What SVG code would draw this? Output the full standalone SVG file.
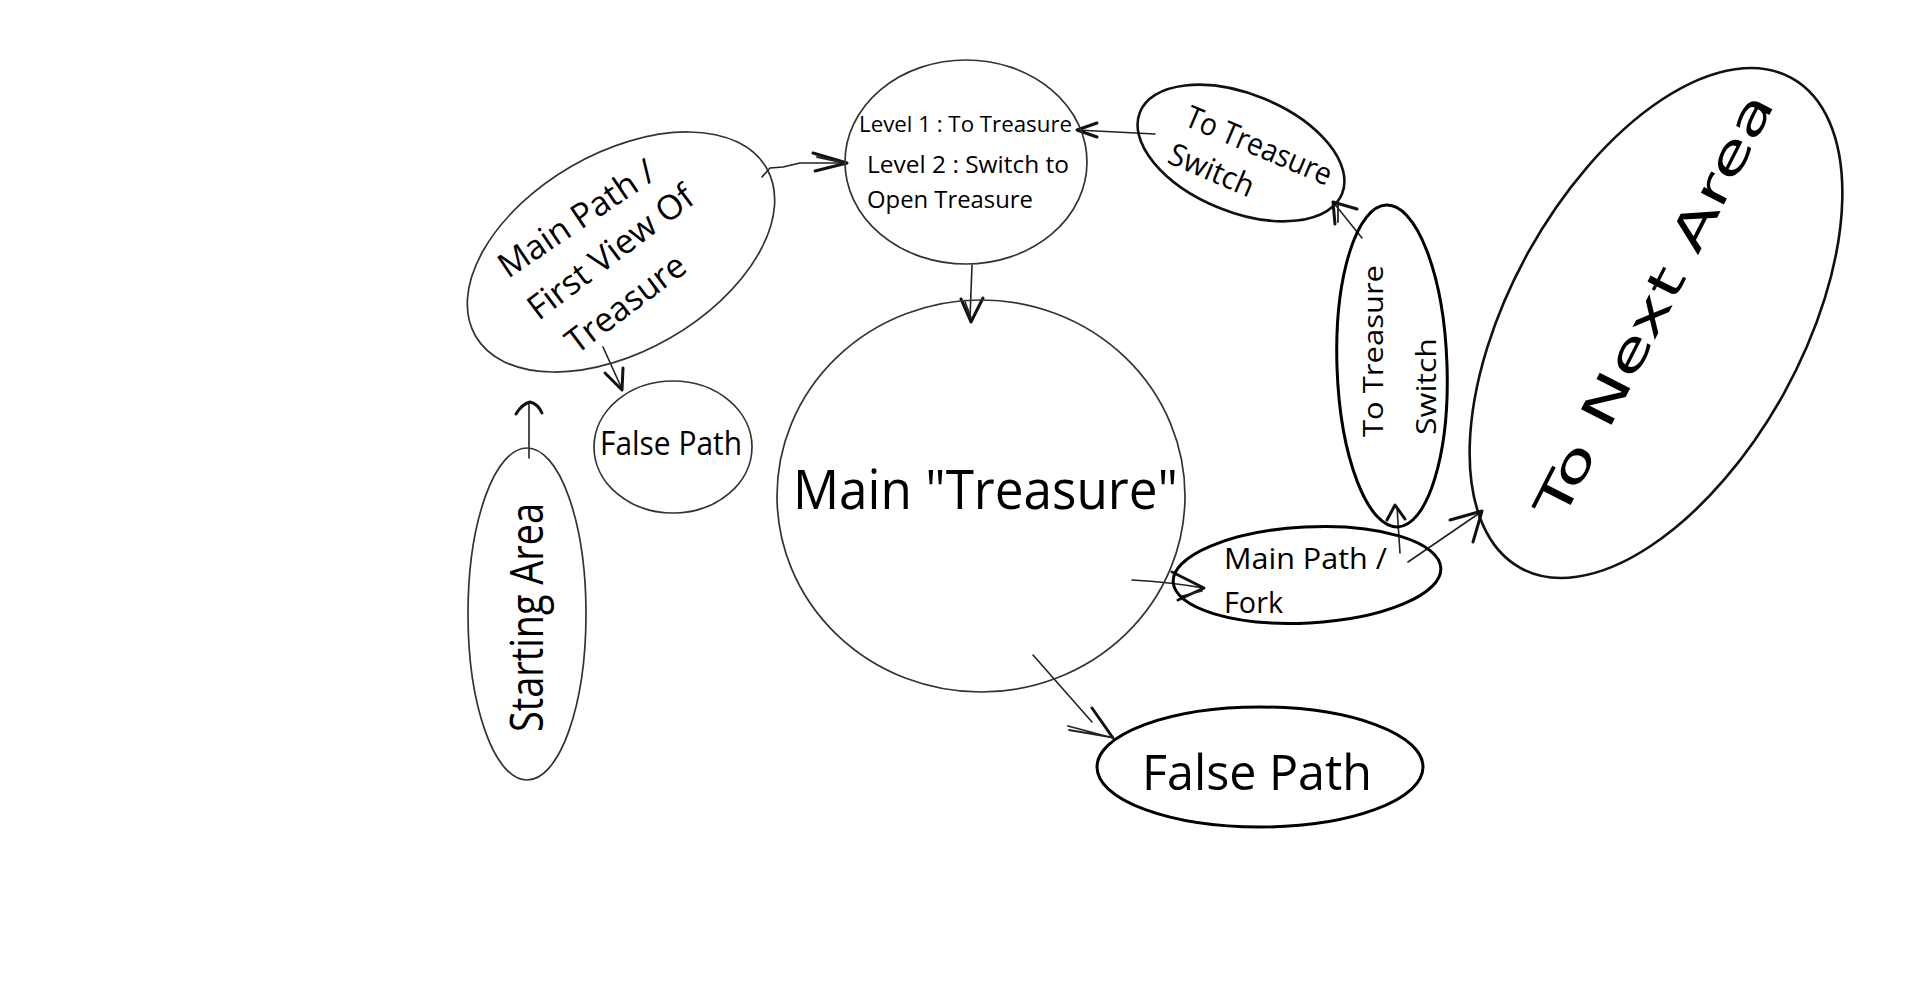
<svg xmlns="http://www.w3.org/2000/svg" width="1920" height="997" viewBox="0 0 1920 997">
<style>
.thin{fill:none;stroke:#333;stroke-width:1.7}
.thick{fill:none;stroke:#000;stroke-width:3}
.med{fill:none;stroke:#111;stroke-width:2.6}
.ln{fill:none;stroke:#222;stroke-width:1.6;stroke-linecap:round;stroke-linejoin:round}
.hd{fill:none;stroke:#111;stroke-width:3;stroke-linecap:round;stroke-linejoin:round}
.hs{fill:none;stroke:#222;stroke-width:1.8;stroke-linecap:round;stroke-linejoin:round}
text{font-family:"Open Sans","Noto Sans","DejaVu Sans",sans-serif;fill:#000}
.geo{font-family:"DejaVu Sans","Liberation Sans",sans-serif}
</style>
<rect width="1920" height="997" fill="#fff"/>

<g id="connectors">
  <!-- Starting Area -> First View -->
  <path class="ln" d="M529,458 L529,404"/>
  <path class="hd" d="M516,414 Q522,404 530,402 Q538,404 542,413"/>
  <!-- First View -> Level -->
  <path class="ln" d="M762,177 L770,168 L783,167 L800,163 L817,163 L847,163"/>
  <path class="hd" d="M813,153 L847,163 L815,171"/>
  <path class="hs" d="M817,157 L845,163"/>
  <!-- First View -> small False Path -->
  <path class="ln" d="M603,347 L622,389"/>
  <path class="hd" d="M605,373 L622,390 L623,368"/>
  <!-- Level -> Main Treasure -->
  <path class="ln" d="M972,265 L970,318"/>
  <path class="hd" d="M961,299 L971,322 L983,298"/>
  <path class="hs" d="M965,302 L971,318"/>
  <!-- Top switch -> Level -->
  <path class="ln" d="M1155,134 L1077,130"/>
  <path class="hd" d="M1097,123 L1077,130 L1097,137"/>
  <!-- Vertical switch -> Top switch -->
  <path class="ln" d="M1362,238 L1333,202"/>
  <path class="hd" d="M1357,209 L1333,202 L1335,224"/>
  <path class="hs" d="M1338,205 L1338,222"/>
  <!-- Main Treasure -> Fork -->
  <path class="ln" d="M1132,580 Q1170,582 1203,588"/>
  <path class="hd" d="M1172,572 L1204,588 L1178,600"/>
  <path class="hs" d="M1182,596 L1202,591"/>
  <!-- Fork -> Vertical switch -->
  <path class="ln" d="M1400,553 L1397,507"/>
  <path class="hd" d="M1387,520 L1395,505 L1405,519"/>
  <!-- Fork -> To Next Area -->
  <path class="ln" d="M1408,562 L1481,512"/>
  <path class="hd" d="M1450,520 L1482,511 L1473,542"/>
  <!-- Main Treasure -> big False Path -->
  <path class="ln" d="M1033,655 L1092,722"/>
  <path class="hd" d="M1092,708 L1113,738"/>
  <path class="hs" d="M1068,726 L1113,738 M1069,730 L1110,737"/>
</g>

<g id="starting-area">
  <ellipse class="thin" cx="527" cy="614" rx="59" ry="166"/>
  <text transform="translate(543,732) rotate(-90)" font-size="45" textLength="229" lengthAdjust="spacingAndGlyphs">Starting Area</text>
</g>

<g id="first-view">
  <ellipse class="thin" cx="621" cy="252" rx="168" ry="99" transform="rotate(-30 621 252)"/>
  <g transform="translate(508,279) rotate(-37)">
    <text x="0" y="0" font-size="34" transform="rotate(3)">Main Path /</text>
    <text x="-1" y="52" font-size="34">First View Of</text>
    <text x="9" y="102" font-size="34">Treasure</text>
  </g>
</g>

<g id="false-path-small">
  <ellipse class="thin" cx="673" cy="447" rx="79" ry="66"/>
  <text x="600" y="455" font-size="32" textLength="142" lengthAdjust="spacingAndGlyphs">False Path</text>
</g>

<g id="level">
  <ellipse class="thin" cx="966" cy="162" rx="121" ry="102"/>
  <text x="859" y="132" font-size="22" textLength="213" lengthAdjust="spacingAndGlyphs">Level 1 : To Treasure</text>
  <text x="867" y="173" font-size="24" textLength="202" lengthAdjust="spacingAndGlyphs">Level 2 : Switch to</text>
  <text x="867" y="208" font-size="24" textLength="166" lengthAdjust="spacingAndGlyphs">Open Treasure</text>
</g>

<g id="main-treasure">
  <ellipse class="thin" cx="981" cy="496" rx="204" ry="196"/>
  <text x="793" y="509" font-size="54" textLength="385" lengthAdjust="spacingAndGlyphs">Main "Treasure"</text>
</g>

<g id="switch-top">
  <ellipse class="med" cx="1241" cy="153" rx="109" ry="59" transform="rotate(22 1241 153)"/>
  <g transform="translate(1183,125) rotate(23)">
    <text x="0" y="0" font-size="31" textLength="156" lengthAdjust="spacingAndGlyphs">To Treasure</text>
    <text x="-1" y="41" font-size="31" textLength="90" lengthAdjust="spacingAndGlyphs">Switch</text>
  </g>
</g>

<g id="switch-vertical">
  <ellipse class="thick" cx="1392" cy="366" rx="55" ry="161" transform="rotate(-2 1392 366)"/>
  <g transform="translate(1383,437) rotate(-90)">
    <text x="0" y="0" font-size="28" textLength="172" lengthAdjust="spacingAndGlyphs">To Treasure</text>
    <text x="2" y="53" font-size="28" textLength="97" lengthAdjust="spacingAndGlyphs">Switch</text>
  </g>
</g>

<g id="fork">
  <ellipse class="thick" cx="1307" cy="575" rx="134" ry="48" transform="rotate(-3 1307 575)"/>
  <text x="1224" y="569" font-size="30" textLength="163" lengthAdjust="spacingAndGlyphs">Main Path /</text>
  <text x="1224" y="613" font-size="30" textLength="59" lengthAdjust="spacingAndGlyphs">Fork</text>
</g>

<g id="next-area">
  <ellipse class="med" cx="1656" cy="323" rx="146" ry="280" transform="rotate(29 1656 323)"/>
  <text class="geo" transform="translate(1562,522) rotate(-63)" font-size="47" textLength="470" lengthAdjust="spacingAndGlyphs">To Next Area</text>
</g>

<g id="false-path-big">
  <ellipse class="thick" cx="1260" cy="767" rx="163" ry="60"/>
  <text x="1142" y="790" font-size="50" textLength="230" lengthAdjust="spacingAndGlyphs">False Path</text>
</g>
</svg>
